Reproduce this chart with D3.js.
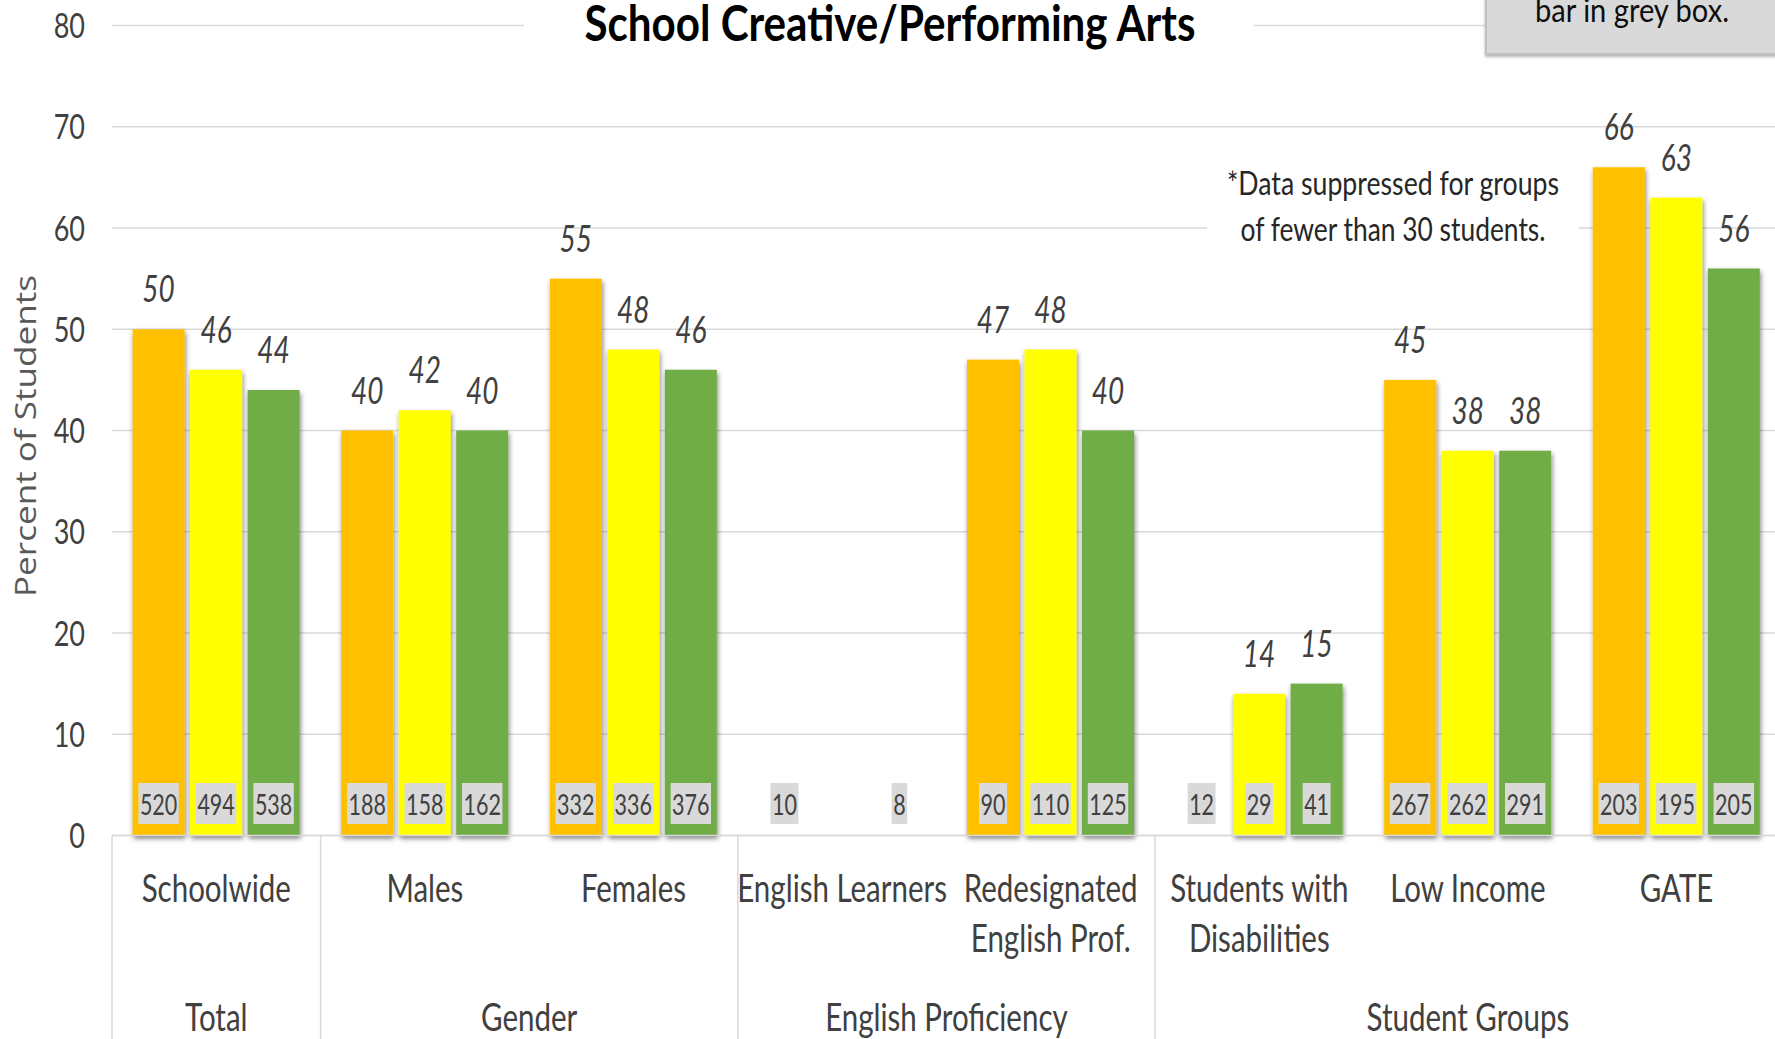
<!DOCTYPE html>
<html><head><meta charset="utf-8">
<script src="https://cdn.jsdelivr.net/npm/d3@7"></script>
<style>body{margin:0;background:#fff;overflow:hidden} svg{display:block}</style>
</head><body>
<svg id="chart" width="1775" height="1039"></svg>
<script>
// ---------- DATA ----------
const categories = ["Schoolwide","Males","Females","English Learners","Redesignated English Prof.","Students with Disabilities","Low Income","GATE"];
const categoryLines = [["Schoolwide"],["Males"],["Females"],["English Learners"],["Redesignated","English Prof."],["Students with","Disabilities"],["Low Income"],["GATE"]];
const groupNames = ["Total","Gender","English Proficiency","Student Groups"];
const groupSizes = [1,2,2,3];
const seriesNames = ["Year 1","Year 2","Year 3"];
const seriesColors = ["#FFC000","#FFFF00","#70AD47"];
const valuesYear1 = [50,40,55,null,47,null,45,66];
const valuesYear2 = [46,42,48,null,48,14,38,63];
const valuesYear3 = [44,40,46,null,40,15,38,56];
const countsYear1 = [520,188,332,10,90,12,267,203];
const countsYear2 = [494,158,336,null,110,29,262,195];
const countsYear3 = [538,162,376,8,125,41,291,205];
const yTicks = [0,10,20,30,40,50,60,70,80];
const titleText = "School Creative/Performing Arts";
const yTitle = "Percent of Students";
const noteLines = ["*Data suppressed for groups","of fewer than 30 students."];
const boxText = "bar in grey box.";

// ---------- LAYOUT ----------
const K = 1.3; // vertical glyph stretch
const FONT = "Lato, 'Open Sans', sans-serif";
const svg = d3.select("#chart");
const values = [valuesYear1, valuesYear2, valuesYear3];
const counts = [countsYear1, countsYear2, countsYear3];

const x0 = d3.scaleBand().domain(categories).range([112, 1780.8]).padding(0);
const x1 = d3.scaleBand().domain(seriesNames).range([20.6, 187.6]).paddingInner(0.096);
const y = d3.scaleLinear().domain([0, 80]).range([835.5, 25.5]);

function stretched(sel, x, yy) {
  return sel.attr("x", 0).attr("y", 0).attr("transform", `translate(${x},${yy}) scale(1,${K})`);
}

// shadow filter
const defs = svg.append("defs");
const f = defs.append("filter").attr("id","sh").attr("x","-30%").attr("y","-10%").attr("width","160%").attr("height","120%");
f.append("feDropShadow").attr("dx",1).attr("dy",3).attr("stdDeviation",2.5).attr("flood-color","#000").attr("flood-opacity",0.5);
const fb = defs.append("filter").attr("id","shb").attr("x","-10%").attr("y","-10%").attr("width","120%").attr("height","140%");
fb.append("feDropShadow").attr("dx",0).attr("dy",2).attr("stdDeviation",1.5).attr("flood-color","#000").attr("flood-opacity",0.3);

// gridlines
svg.append("g").selectAll("line").data(yTicks).join("line")
  .attr("x1", 112).attr("x2", 1781)
  .attr("y1", d => y(d)).attr("y2", d => y(d))
  .attr("stroke", "#d9d9d9").attr("stroke-width", 1.5);

// white boxes behind title and note
svg.append("rect").attr("x", 524).attr("y", 0).attr("width", 730).attr("height", 60).attr("fill", "#fff");
svg.append("rect").attr("x", 1207).attr("y", 150).attr("width", 372).attr("height", 110).attr("fill", "#fff");

// tick labels
svg.append("g").selectAll("text").data(yTicks).join("text")
  .each(function(d){ stretched(d3.select(this), 85, y(d) + 12.5); })
  .attr("text-anchor","end").attr("font-family",FONT).attr("font-size",27).attr("fill","#404040")
  .text(d => d);

// y axis title
svg.append("text")
  .attr("transform","translate(35.5,436) rotate(-90)")
  .attr("text-anchor","middle").attr("font-family","'Open Sans', sans-serif").attr("font-size",30)
  .attr("fill","#595959").attr("textLength",322).attr("lengthAdjust","spacingAndGlyphs")
  .text(yTitle);

// bars
const barData = [];
categories.forEach((c, i) => seriesNames.forEach((s, j) => {
  barData.push({cat: c, ser: s, j, v: values[j][i], n: counts[j][i]});
}));
const gBars = svg.append("g");
gBars.selectAll("rect").data(barData.filter(d => d.v != null)).join("rect")
  .attr("x", d => x0(d.cat) + x1(d.ser))
  .attr("width", x1.bandwidth())
  .attr("y", d => y(d.v))
  .attr("height", d => y(0) - y(d.v))
  .attr("fill", d => seriesColors[d.j])
  .attr("filter","url(#sh)");

// value labels
svg.append("g").selectAll("text").data(barData.filter(d => d.v != null)).join("text")
  .each(function(d){ stretched(d3.select(this), x0(d.cat) + x1(d.ser) + x1.bandwidth()/2, y(d.v) - 27); })
  .attr("text-anchor","middle").attr("font-family",FONT).attr("font-style","italic")
  .attr("font-size",28).attr("fill","#404040")
  .text(d => d.v);

// count labels
const gCount = svg.append("g");
barData.filter(d => d.n != null).forEach(d => {
  const cx = x0(d.cat) + x1(d.ser) + x1.bandwidth()/2;
  const r = gCount.append("rect").attr("fill","#d9d9d9");
  const t = gCount.append("text").attr("text-anchor","middle").attr("font-family",FONT)
    .attr("font-size",21.5).attr("fill","#404040").text(d.n);
  stretched(t, cx, 814.5);
  const w = t.node().getComputedTextLength() + 3;
  r.attr("x", cx - w/2).attr("width", w).attr("y", 783).attr("height", 41);
});

// baseline
svg.append("line").attr("x1",112).attr("x2",1781).attr("y1",y(0)).attr("y2",y(0)).attr("stroke","#d9d9d9").attr("stroke-width",1.5);

// group separators
let acc = 0;
const sepIdx = [0];
groupSizes.forEach(s => { acc += s; sepIdx.push(acc); });
svg.append("g").selectAll("line").data(sepIdx.filter(i => i < categories.length)).join("line")
  .attr("x1", i => x0(categories[i])).attr("x2", i => x0(categories[i]))
  .attr("y1", y(0)).attr("y2", 1039)
  .attr("stroke","#d9d9d9").attr("stroke-width",1.5);

// category labels
categories.forEach((c, i) => {
  categoryLines[i].forEach((line, li) => {
    const t = svg.append("text").attr("text-anchor","middle").attr("font-family",FONT)
      .attr("font-size",29.5).attr("fill","#404040").text(line);
    stretched(t, x0(c) + x0.bandwidth()/2, 902 + li * 49.5);
  });
});

// group labels
acc = 0;
groupNames.forEach((g, gi) => {
  const a = x0(categories[acc]);
  const b = x0(categories[acc + groupSizes[gi] - 1]) + x0.bandwidth();
  acc += groupSizes[gi];
  const t = svg.append("text").attr("text-anchor","middle").attr("font-family",FONT)
    .attr("font-size",29.5).attr("fill","#404040").text(g);
  stretched(t, (a + b)/2, 1031);
});

// title
stretched(svg.append("text"), 890, 41)
  .attr("text-anchor","middle").attr("font-family",FONT).attr("font-weight","bold")
  .attr("font-size",37.5).attr("fill","#000")
  .attr("textLength",611).attr("lengthAdjust","spacingAndGlyphs").text(titleText);

// note
const noteWidths = [332, 305];
noteLines.forEach((line, i) => {
  stretched(svg.append("text"), 1393, 195 + i * 45.5)
    .attr("text-anchor","middle").attr("font-family",FONT)
    .attr("font-size",24.5).attr("fill","#262626")
    .attr("textLength",noteWidths[i]).attr("lengthAdjust","spacingAndGlyphs").text(line);
});

// grey box top-right
svg.append("rect").attr("x",1486).attr("y",-20).attr("width",320).attr("height",74)
  .attr("fill","#d9d9d9").attr("stroke","#bfbfbf").attr("stroke-width",2).attr("filter","url(#shb)");
stretched(svg.append("text"), 1632, 21.5)
  .attr("text-anchor","middle").attr("font-family",FONT)
  .attr("font-size",25).attr("fill","#0d0d0d")
  .attr("textLength",194).attr("lengthAdjust","spacingAndGlyphs").text(boxText);
</script>
</body></html>
